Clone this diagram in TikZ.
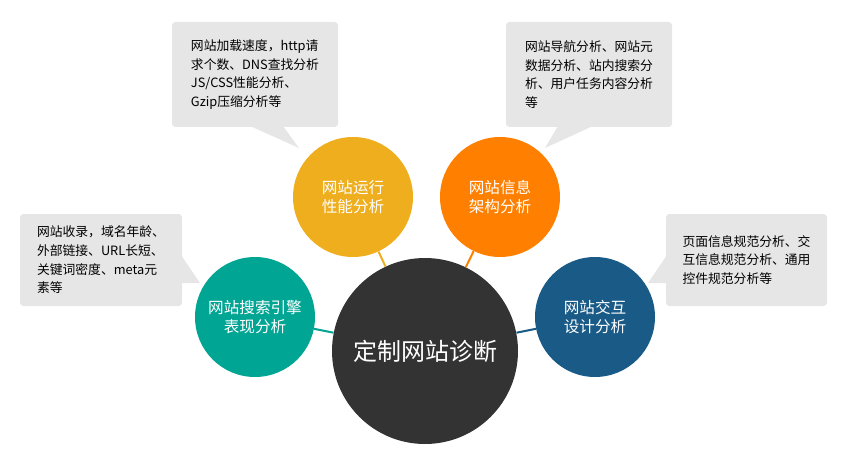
\documentclass[tikz,border=0pt]{standalone}
\usepackage{fontspec}
\setmainfont{Noto Sans CJK SC}
\usepackage{tikz}
\usepackage{xcolor}
\usetikzlibrary{arrows.meta, positioning}
\definecolor{runyellow}{RGB}{238,174,30}
\definecolor{infoorange}{RGB}{255,128,0}
\definecolor{seoteal}{RGB}{0,165,147}
\definecolor{uxblue}{RGB}{25,90,135}
\definecolor{maindark}{RGB}{51,51,51}
\definecolor{notegrey}{RGB}{230,230,230}

\begin{document}
\begin{tikzpicture}[x=0.75pt,y=0.75pt,yscale=-1,xscale=1,
  bubble/.style={circle,minimum size=90pt,inner sep=0pt,text=white,align=center,font=\fontsize{11.7}{14.5}\selectfont},
  note/.style={fill=notegrey,rounded corners=2.5pt,inner sep=0pt,align=left,font=\fontsize{9.6}{14}\selectfont},
  link/.style={line width=1.5pt}]
\useasboundingbox (0,0) rectangle (850,460);

%Shape: Circle [main]
\node [circle,fill=maindark,minimum size=139.5pt,inner sep=0pt,text=white,font=\fontsize{18}{22}\selectfont] (main) at (425,351) {定制网站诊断};
%Shape: Circle [perf]
\node [bubble,fill=runyellow] (perf) at (353,197) {网站运行\\性能分析};
%Shape: Circle [arch]
\node [bubble,fill=infoorange] (arch) at (500,197) {网站信息\\架构分析};
%Shape: Circle [seo]
\node [bubble,fill=seoteal] (seo) at (255,317) {网站搜索引擎\\表现分析};
%Shape: Circle [ux]
\node [bubble,fill=uxblue] (ux) at (595,317) {网站交互\\设计分析};

%Straight Lines
\draw [link,runyellow] (perf) -- (main);
\draw [link,infoorange] (arch) -- (main);
\draw [link,seoteal] (seo) -- (main);
\draw [link,uxblue] (ux) -- (main);

%Shape: Callout [perfnote]
\fill [notegrey] (250,126) -- (299,148) -- (283,126) -- cycle;
\node [note,minimum width=124.5pt,minimum height=78.75pt] (perfnote) at (255,74.5) {网站加载速度，http请\\求个数、DNS查找分析\\JS/CSS性能分析、\\Gzip压缩分析等};
%Shape: Callout [archnote]
\fill [notegrey] (558,126) -- (545,148) -- (593,126) -- cycle;
\node [note,minimum width=124.5pt,minimum height=78.75pt] (archnote) at (589,74.5) {网站导航分析、网站元\\数据分析、站内搜索分\\析、用户任务内容分析\\等};
%Shape: Callout [seonote]
\fill [notegrey] (181,255) -- (200,283) -- (181,283) -- cycle;
\node [note,minimum width=121.5pt,minimum height=69pt] (seonote) at (101,260) {网站收录，域名年龄、\\外部链接、URL长短、\\关键词密度、meta元\\素等};
%Shape: Callout [uxnote]
\fill [notegrey] (667,255) -- (648,283) -- (667,283) -- cycle;
\node [note,minimum width=120.75pt,minimum height=69pt] (uxnote) at (746.5,260) {页面信息规范分析、交\\互信息规范分析、通用\\控件规范分析等};

\end{tikzpicture}
\end{document}
